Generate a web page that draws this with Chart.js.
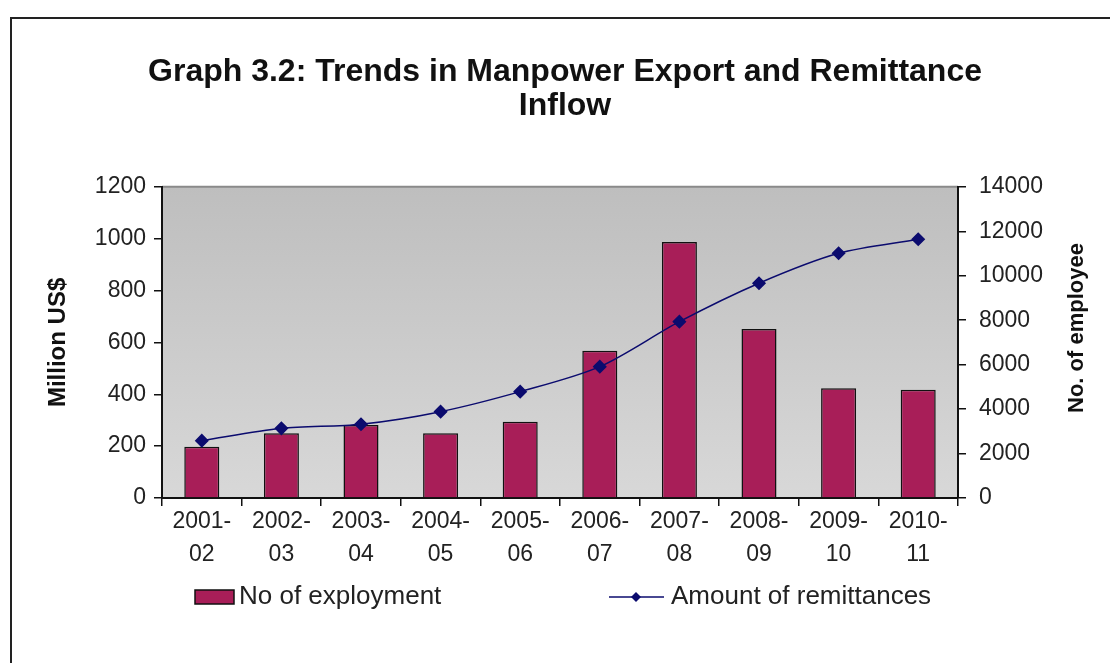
<!DOCTYPE html>
<html>
<head>
<meta charset="utf-8">
<script src="https://cdn.jsdelivr.net/npm/chart.js@4"></script>
<style>
  html, body { margin: 0; padding: 0; background: #fff; }
  #wrap { width: 1110px; height: 663px; }
</style>
</head>
<body>
<div id="wrap"><canvas id="trendChart" width="1110" height="663"></canvas></div>
<script>
const years = [
    ['2001-', '02'], ['2002-', '03'], ['2003-', '04'], ['2004-', '05'], ['2005-', '06'],
    ['2006-', '07'], ['2007-', '08'], ['2008-', '09'], ['2009-', '10'], ['2010-', '11']
]
const employment = [198, 250, 282, 250, 294, 568, 987, 652, 423, 417]
const remittances = [2580, 3135, 3320, 3885, 4785, 5910, 7935, 9665, 11010, 11640]
const leftAxis = { min: 0, max: 1200, step: 200 }
const rightAxis = { min: 0, max: 14000, step: 2000 }

const FONT = "'Liberation Sans', Arial, sans-serif"
const BAR_COLOR = '#a81e58'
const LINE_COLOR = '#0b0b6e'

// frame, plot background, right axis title and legend
const decorations = {
    id: 'decorations',
    beforeDraw(chart) {
        const { ctx, chartArea: a } = chart
        ctx.save()
        ctx.strokeStyle = '#222'
        ctx.lineWidth = 2
        ctx.beginPath()
        ctx.moveTo(11, 663)
        ctx.lineTo(11, 18)
        ctx.lineTo(1110, 18)
        ctx.stroke()

        const g = ctx.createLinearGradient(0, a.top, 0, a.bottom)
        g.addColorStop(0, '#bebebe')
        g.addColorStop(1, '#d8d8d8')
        ctx.fillStyle = g
        ctx.fillRect(a.left, a.top, a.right - a.left, a.bottom - a.top)
        ctx.strokeStyle = '#8a8a8a'
        ctx.lineWidth = 2
        ctx.beginPath()
        ctx.moveTo(a.left, a.top)
        ctx.lineTo(a.right, a.top)
        ctx.stroke()
        ctx.restore()
    },
    afterDraw(chart) {
        const { ctx } = chart
        ctx.save()
        // right axis title, reading upwards
        ctx.translate(1077, 328)
        ctx.rotate(-Math.PI / 2)
        ctx.font = 'bold 22px ' + FONT
        ctx.fillStyle = '#111'
        ctx.textAlign = 'center'
        ctx.textBaseline = 'middle'
        ctx.fillText('No. of employee', 0, 0)
        ctx.restore()

        ctx.save()
        const ly = 597
        ctx.font = '26px ' + FONT
        ctx.textBaseline = 'middle'
        ctx.fillStyle = BAR_COLOR
        ctx.fillRect(195, ly - 7, 39, 14)
        ctx.strokeStyle = '#111'
        ctx.lineWidth = 1.5
        ctx.strokeRect(195, ly - 7, 39, 14)
        ctx.fillStyle = '#222'
        ctx.fillText(chart.data.datasets[1].label, 239, ly)

        ctx.strokeStyle = LINE_COLOR
        ctx.lineWidth = 1.5
        ctx.beginPath()
        ctx.moveTo(609, ly)
        ctx.lineTo(664, ly)
        ctx.stroke()
        ctx.fillStyle = LINE_COLOR
        ctx.beginPath()
        ctx.moveTo(636, ly - 5)
        ctx.lineTo(641, ly)
        ctx.lineTo(636, ly + 5)
        ctx.lineTo(631, ly)
        ctx.closePath()
        ctx.fill()
        ctx.fillStyle = '#222'
        ctx.fillText(chart.data.datasets[0].label, 671, ly)
        ctx.restore()
    }
}

const axisLook = {
    grid: { drawOnChartArea: false, color: '#111', tickLength: 8, lineWidth: 1.5 },
    border: { color: '#111', width: 2 },
    ticks: { color: '#222', font: { family: FONT, size: 23 }, callback: v => v }
}

new Chart(document.getElementById('trendChart'), {
    data: {
        labels: years,
        datasets: [
            {
                type: 'line',
                label: 'Amount of remittances',
                data: remittances,
                yAxisID: 'y1',
                borderColor: LINE_COLOR,
                borderWidth: 1.5,
                tension: 0.3,
                pointStyle: 'rectRot',
                pointRadius: 6,
                pointBackgroundColor: LINE_COLOR,
                pointBorderColor: LINE_COLOR,
                order: 0
            },
            {
                type: 'bar',
                label: 'No of exployment',
                data: employment,
                yAxisID: 'y',
                backgroundColor: BAR_COLOR,
                borderColor: '#111',
                borderWidth: 1.5,
                barPercentage: 0.44,
                categoryPercentage: 1.0,
                order: 1
            }
        ]
    },
    options: {
        responsive: false,
        animation: false,
        devicePixelRatio: 1,
        layout: { padding: { left: 20, right: 0, top: 0, bottom: 0 } },
        plugins: {
            legend: { display: false },
            tooltip: { enabled: false },
            title: {
                display: true,
                text: ['Graph 3.2: Trends in Manpower Export and Remittance', 'Inflow'],
                color: '#111',
                font: { family: FONT, size: 32, weight: 'bold', lineHeight: 1.06 },
                padding: { top: 55, bottom: 64 }
            }
        },
        scales: {
            x: {
                ...axisLook,
                ticks: {
                    color: '#222',
                    font: { family: FONT, size: 23, lineHeight: 1.4 },
                    padding: 0, maxRotation: 0, autoSkip: false
                },
                afterFit(s) { s.height = 165 }
            },
            y: {
                ...axisLook,
                position: 'left',
                min: leftAxis.min,
                max: leftAxis.max,
                ticks: { ...axisLook.ticks, stepSize: leftAxis.step, padding: 8 },
                title: {
                    display: true,
                    text: 'Million US$',
                    color: '#111',
                    font: { family: FONT, size: 24, weight: 'bold' },
                    padding: { top: 24 }
                },
                afterFit(s) { s.width = 142 }
            },
            y1: {
                ...axisLook,
                position: 'right',
                min: rightAxis.min,
                max: rightAxis.max,
                ticks: { ...axisLook.ticks, stepSize: rightAxis.step, padding: 13 },
                afterFit(s) { s.width = 152 }
            }
        }
    },
    plugins: [decorations]
})
</script>
</body>
</html>
